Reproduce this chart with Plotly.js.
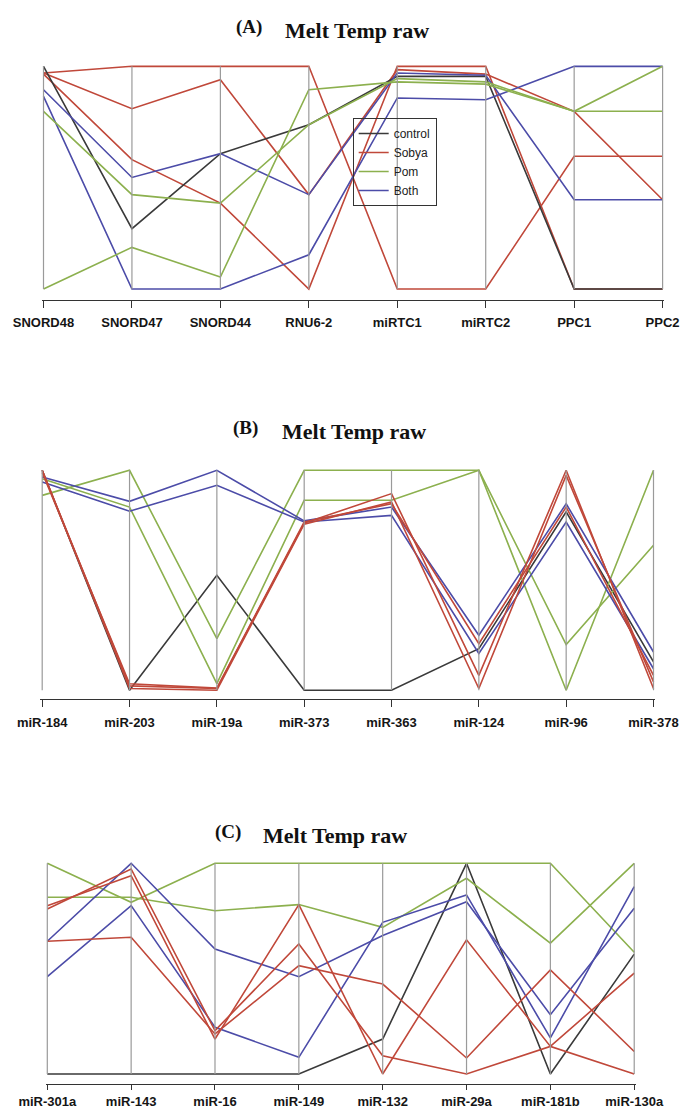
<!DOCTYPE html>
<html><head><meta charset="utf-8">
<script src="https://cdn.plot.ly/plotly-3.0.1.min.js"></script>
<style>html,body{margin:0;padding:0;background:#fff}#chart{width:681px;height:1112px}</style>
</head><body><div id="chart"></div>
<script>
// ---- groups ----
const groupNames = ['control', 'Sobya', 'Pom', 'Both'];
const groupColors = ['#3a3a3a', '#c0483a', '#8cb04e', '#4c4ca8'];

// ---- panel A ----
const labelsA = ['SNORD48', 'SNORD47', 'SNORD44', 'RNU6-2', 'miRTC1', 'miRTC2', 'PPC1', 'PPC2'];
const groupsA = ['Sobya', 'Sobya', 'Sobya', 'control', 'Both', 'Both', 'Pom', 'Pom'];
const valuesA = [
  [0.97, 1.0, 1.0, 1.0, 0, 0, 0.596, 0.596],
  [0.97, 0.81, 0.94, 0.424, 0.985, 0.965, 0.798, 0.401],
  [0.965, 0.581, 0.386, 0, 1.0, 1.0, 0, 0],
  [1.0, 0.271, 0.608, 0.738, 0.955, 0.955, 0, 0],
  [0.895, 0.501, 0.608, 0.424, 0.97, 0.96, 0.401, 0.401],
  [0.865, 0, 0, 0.154, 0.858, 0.85, 1.0, 1.0],
  [0.798, 0.424, 0.386, 0.738, 0.945, 0.93, 0.798, 1.0],
  [0, 0.187, 0.054, 0.895, 0.93, 0.92, 0.798, 0.798]
];

// ---- panel B ----
const labelsB = ['miR-184', 'miR-203', 'miR-19a', 'miR-373', 'miR-363', 'miR-124', 'miR-96', 'miR-378'];
const groupsB = ['control', 'Pom', 'Pom', 'Both', 'Both', 'Sobya', 'Sobya', 'Sobya'];
const valuesB = [
  [1.0, 0.0, 0.523, 0.0, 0.0, 0.189, 0.811, 0.129],
  [0.886, 1.0, 0.235, 1.0, 1.0, 1.0, 0.208, 0.659],
  [0.962, 0.833, 0.03, 0.864, 0.864, 1.0, 0.0, 1.0],
  [0.97, 0.859, 1.0, 0.77, 0.833, 0.25, 0.848, 0.174],
  [0.947, 0.814, 0.932, 0.765, 0.795, 0.167, 0.765, 0.098],
  [1.0, 0.02, 0.008, 0.76, 0.894, 0.068, 1.0, 0.008],
  [1.0, 0.008, 0.0, 0.755, 0.856, 0.008, 0.977, 0.038],
  [0.99, 0.03, 0.01, 0.765, 0.848, 0.212, 0.833, 0.068]
];

// ---- panel C ----
const labelsC = ['miR-301a', 'miR-143', 'miR-16', 'miR-149', 'miR-132', 'miR-29a', 'miR-181b', 'miR-130a'];
const groupsC = ['control', 'Pom', 'Pom', 'Both', 'Both', 'Sobya', 'Sobya', 'Sobya'];
const valuesC = [
  [0, 0, 0, 0, 0.166, 1.0, 0, 0.569],
  [1.0, 0.815, 1.0, 1.0, 1.0, 1.0, 1.0, 0.578],
  [0.839, 0.839, 0.775, 0.804, 0.696, 0.929, 0.621, 1.0],
  [0.63, 1.0, 0.593, 0.462, 0.657, 0.818, 0.281, 0.787],
  [0.462, 0.799, 0.222, 0.079, 0.72, 0.85, 0.171, 0.889],
  [0.799, 0.941, 0.166, 0.804, 0, 0.637, 0.131, 0.479],
  [0.783, 0.973, 0.206, 0.617, 0.087, 0, 0.131, 0],
  [0.63, 0.649, 0.19, 0.514, 0.427, 0.076, 0.494, 0.107]
];

const panelLetters = ['(A)', '(B)', '(C)'];
const titleText = 'Melt Temp raw';

function buildPanel(labels, groups, values, n, withLegend) {
  const xa = n === 1 ? 'x' : 'x' + n;
  const ya = n === 1 ? 'y' : 'y' + n;
  const traces = [];
  const seen = {};
  values.forEach((row, i) => {
    const g = groups[i];
    const gi = groupNames.indexOf(g);
    const first = withLegend && !seen[g];
    seen[g] = true;
    traces.push({
      type: 'scatter', mode: 'lines', x: labels, y: row, xaxis: xa, yaxis: ya,
      name: g, legendgroup: g, showlegend: first, legendrank: gi + 1,
      line: { color: groupColors[gi], width: 1.6 }, hoverinfo: 'skip'
    });
  });
  traces.push({
    type: 'scatter', mode: 'lines',
    x: labels.flatMap(l => [l, l, null]),
    y: labels.flatMap(() => [0, 1, null]),
    xaxis: xa, yaxis: ya, showlegend: false, connectgaps: false,
    line: { color: '#9a9a9a', width: 1.2 }, hoverinfo: 'skip'
  });
  return traces;
}

const data = [].concat(
  buildPanel(labelsA, groupsA, valuesA, 1, true),
  buildPanel(labelsB, groupsB, valuesB, 2, false),
  buildPanel(labelsC, groupsC, valuesC, 3, false)
);

const tickFont = { family: 'Liberation Sans, Arial, sans-serif', size: 13, color: '#151515', weight: 'bold' };
function xAxis(labels, domain, anchor, standoff, ticklen) {
  return {
    domain: domain, anchor: anchor, type: 'category', categoryorder: 'array', categoryarray: labels,
    range: [-0.02, 7.02], showline: true, linecolor: '#333', linewidth: 1,
    ticks: 'outside', ticklen: ticklen, tickcolor: '#333', tickwidth: 1,
    showgrid: false, zeroline: false, tickfont: tickFont, ticklabelstandoff: standoff, fixedrange: true
  };
}
function yAxis(domain, lo, anchor) {
  return { domain: domain, anchor: anchor, range: [lo, 1.01], visible: false, fixedrange: true };
}

const serif = 'Liberation Serif, Times New Roman, serif';
function titleAnn(letter, lx, ly, mx, my) {
  return [
    { xref: 'paper', yref: 'paper', x: lx, y: ly, xanchor: 'center', yanchor: 'middle', showarrow: false,
      text: '<b>' + letter + '</b>', font: { family: serif, size: 19, color: '#111' } },
    { xref: 'paper', yref: 'paper', x: mx, y: my, xanchor: 'center', yanchor: 'middle', showarrow: false,
      text: '<b>' + titleText + '</b>', font: { family: serif, size: 22, color: '#111' } }
  ];
}

const layout = {
  width: 681, height: 1112,
  margin: { l: 0, r: 0, t: 0, b: 0 },
  paper_bgcolor: '#fff', plot_bgcolor: 'rgba(0,0,0,0)',
  showlegend: true,
  legend: {
    x: 0.5179, y: 0.8939, xanchor: 'left', yanchor: 'top',
    bgcolor: 'rgba(0,0,0,0)', bordercolor: '#333', borderwidth: 1,
    font: { family: 'Liberation Sans, Arial, sans-serif', size: 12, color: '#222' },
    traceorder: 'normal', itemwidth: 30, tracegroupgap: 0
  },
  xaxis: xAxis(labelsA, [0.06128, 0.97558], 'y', 4, 7),
  yaxis: yAxis([0.73066, 0.94236], -0.047, 'x'),
  xaxis2: xAxis(labelsB, [0.0594, 0.96219], 'y2', 4, 7),
  yaxis2: yAxis([0.37113, 0.57905], -0.041, 'x2'),
  xaxis3: xAxis(labelsC, [0.06699, 0.93377], 'y3', 0, 5),
  yaxis3: yAxis([0.02518, 0.22554], -0.0475, 'x3'),
  annotations: [].concat(
    titleAnn(panelLetters[0], 0.3656, 0.9757, 0.5242, 0.9730),
    titleAnn(panelLetters[1], 0.3605, 0.6151, 0.5191, 0.6124),
    titleAnn(panelLetters[2], 0.3348, 0.2518, 0.4912, 0.2491)
  )
};

Plotly.newPlot('chart', data, layout, { staticPlot: true, displayModeBar: false });
</script></body></html>
